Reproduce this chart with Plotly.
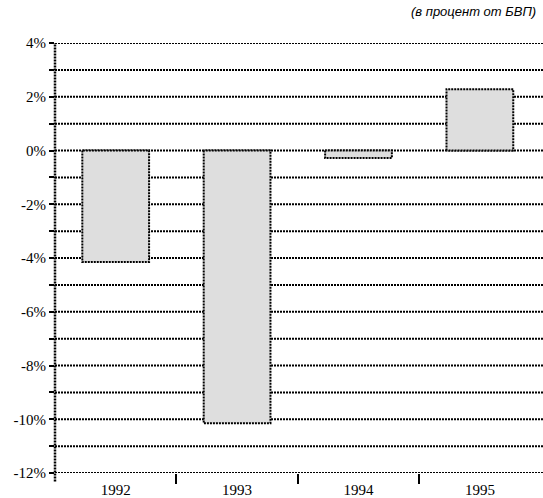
import plotly.graph_objects as go

years = ["1992", "1993", "1994", "1995"]
values = [-4.15, -10.15, -0.28, 2.28]
y_ticks = list(range(4, -13, -1))
y_labels = [f"{v}%" if v % 2 == 0 else "" for v in y_ticks]
note = "(в процент от БВП)"

bar_w = 0.55
xs = list(range(len(years)))

fig = go.Figure()
fig.add_trace(go.Bar(
    x=xs, y=values, width=bar_w,
    marker=dict(color="#dedede", line=dict(width=0)),
    showlegend=False, hoverinfo="skip",
))
for i, v in zip(xs, values):
    fig.add_trace(go.Scatter(
        x=[i - bar_w / 2, i - bar_w / 2, i + bar_w / 2, i + bar_w / 2, i - bar_w / 2],
        y=[0, v, v, 0, 0],
        mode="lines",
        line=dict(color="black", width=2, dash="2px,1px"),
        showlegend=False, hoverinfo="skip",
    ))

fig.update_layout(
    width=543, height=498,
    margin=dict(l=55, r=0, t=43, b=23),
    paper_bgcolor="white", plot_bgcolor="white",
    font=dict(family="Liberation Serif", size=14, color="black"),
    xaxis=dict(
        range=[-0.5, 3.52], tickmode="array", tickvals=xs, ticktext=years,
        ticks="", showgrid=False, zeroline=False, showline=False,
        ticklabelstandoff=6,
        minor=dict(tickmode="array", tickvals=[0.5, 1.5, 2.5], ticks="outside",
                   ticklen=10, tickwidth=2, tickcolor="black", showgrid=False),
        tickfont=dict(family="Liberation Serif", size=15),
    ),
    yaxis=dict(
        range=[-12, 4], tickmode="array", tickvals=y_ticks, ticktext=y_labels,
        ticks="outside", ticklen=5, tickwidth=2, tickcolor="black",
        showgrid=False, zeroline=False, showline=False,
        tickfont=dict(family="Liberation Serif", size=15),
    ),
    shapes=[
        dict(type="line", xref="paper", yref="y", x0=0, x1=1, y0=t, y1=t,
             layer="below", line=dict(color="black", width=2, dash="2px,1px"))
        for t in y_ticks
    ] + [
        dict(type="line", xref="paper", yref="paper", x0=0, x1=0, y0=-0.02, y1=1,
             line=dict(color="black", width=2.5, dash="2px,1px")),
    ],
    annotations=[
        dict(text="<i>" + note + "</i>", xref="paper", yref="paper", x=1, y=1,
             xanchor="right", yanchor="bottom", xshift=-5, yshift=22, showarrow=False,
             font=dict(family="Liberation Sans", size=13, color="black")),
    ],
)

fig.write_html("out.html")
